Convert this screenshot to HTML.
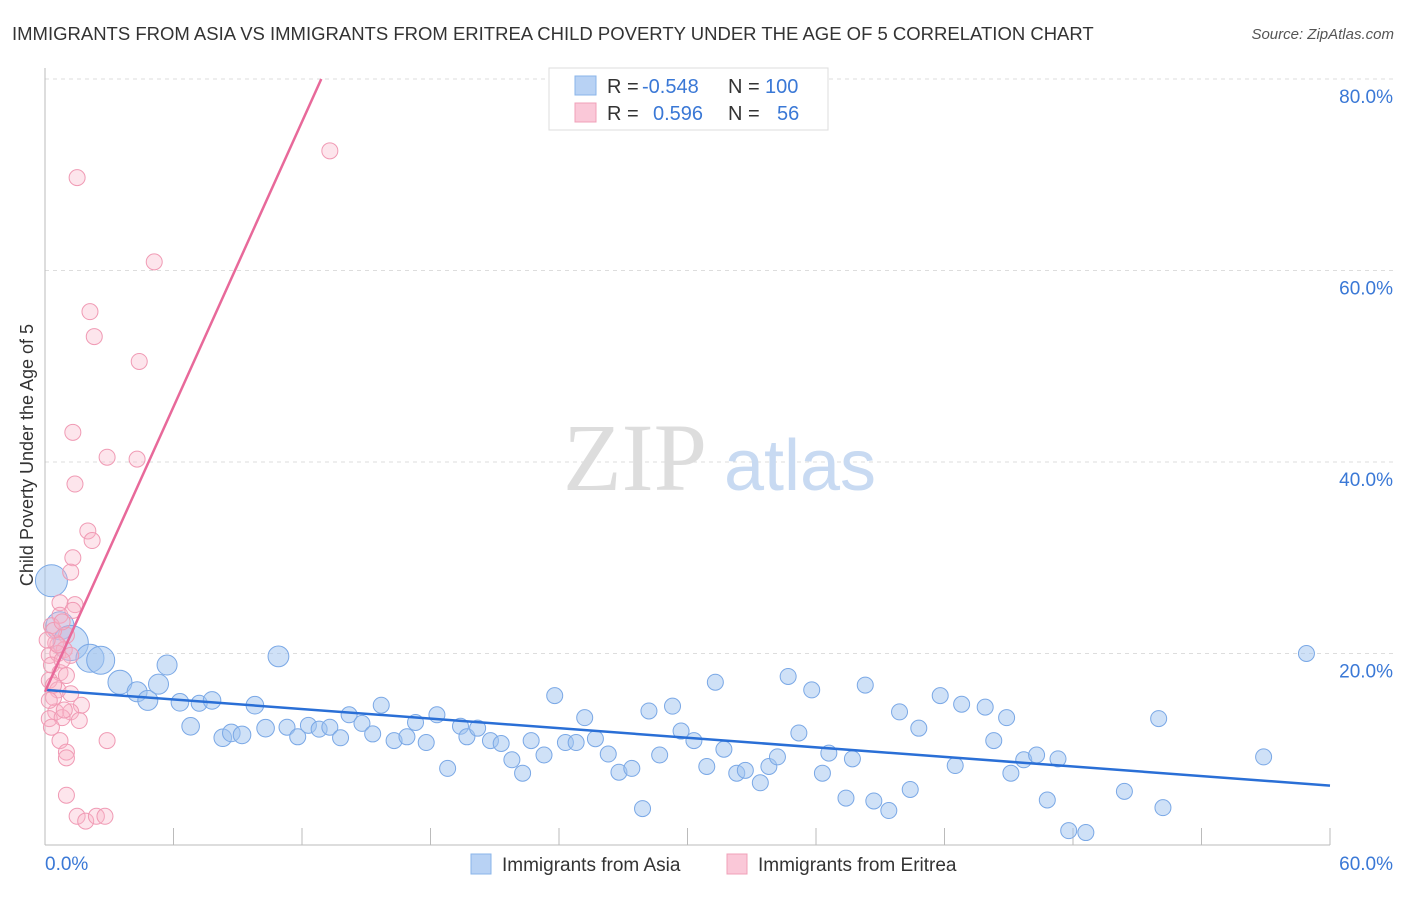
<!DOCTYPE html>
<html><head><meta charset="utf-8"><style>
body{margin:0;background:#fff;font-family:"Liberation Sans",sans-serif;}
svg text{font-family:"Liberation Sans",sans-serif;}
</style></head><body>
<svg id="chart" width="1406" height="892" viewBox="0 0 1406 892">
<text x="12" y="40" font-size="18.5" fill="#333">IMMIGRANTS FROM ASIA VS IMMIGRANTS FROM ERITREA CHILD POVERTY UNDER THE AGE OF 5 CORRELATION CHART</text>
<text x="1394" y="39" font-size="15" fill="#555" font-style="italic" text-anchor="end">Source: ZipAtlas.com</text>
<g id="grid"></g>
<g>
<text x="635" y="490" font-size="96" fill="#ddd" text-anchor="middle" style="font-family:'Liberation Serif',serif">ZIP</text>
<text x="800" y="490" font-size="72" fill="#c8daf2" text-anchor="middle">atlas</text>
</g>
<g id="axes"></g>
<g id="pts"></g>
<g id="lines"></g>
<text x="33" y="455" font-size="18" fill="#333" text-anchor="middle" transform="rotate(-90 33 455)">Child Poverty Under the Age of 5</text>
<g>
<rect x="549" y="68" width="279" height="62" fill="#fff" stroke="#ddd"/>
<rect x="575" y="76" width="21" height="19" fill="#b8d2f4" stroke="#8ab4ea"/>
<rect x="575" y="103" width="21" height="19" fill="#fac8d8" stroke="#f0a0b8"/>
<text x="607" y="93" font-size="20" fill="#333">R =</text><text x="642" y="93" font-size="20" fill="#3a78d6">-0.548</text>
<text x="728" y="93" font-size="20" fill="#333">N =</text><text x="765" y="93" font-size="20" fill="#3a78d6">100</text>
<text x="607" y="120" font-size="20" fill="#333">R =</text><text x="653" y="120" font-size="20" fill="#3a78d6">0.596</text>
<text x="728" y="120" font-size="20" fill="#333">N =</text><text x="777" y="120" font-size="20" fill="#3a78d6">56</text>
</g>
<g>
<rect x="471" y="854" width="20" height="20" fill="#b8d2f4" stroke="#8ab4ea"/>
<text x="502" y="871" font-size="19" fill="#333">Immigrants from Asia</text>
<rect x="727" y="854" width="20" height="20" fill="#fac8d8" stroke="#f0a0b8"/>
<text x="758" y="871" font-size="19" fill="#333">Immigrants from Eritrea</text>
</g>
</svg>
<script>
const blueX=[0.3,0.7,1.2,2.1,2.6,3.5,4.3,4.8,5.3,5.7,6.3,6.8,7.2,7.8,8.3,8.7,9.2,9.8,10.3,10.9,11.3,11.8,12.3,12.8,13.3,13.8,14.2,14.8,15.3,15.7,16.3,16.9,17.3,17.8,18.3,18.8,19.4,19.7,20.2,20.8,21.3,21.8,22.3,22.7,23.3,23.8,24.3,24.8,25.2,25.7,26.3,26.8,27.4,27.9,28.2,28.7,29.3,29.7,30.3,30.9,31.3,31.7,32.3,32.7,33.4,33.8,34.2,34.7,35.2,35.8,36.3,36.6,37.4,37.7,38.3,38.7,39.4,39.9,40.4,40.8,41.8,42.5,42.8,43.9,44.3,44.9,45.1,45.7,46.3,46.8,47.3,47.8,48.6,50.4,52.0,52.2,56.9,58.9];
const blueY=[27.6,22.9,21.1,19.5,19.3,17.0,16.0,15.1,16.8,18.8,14.9,12.4,14.8,15.1,11.2,11.7,11.5,14.6,12.2,19.7,12.3,11.3,12.5,12.1,12.3,11.2,13.6,12.7,11.6,14.6,10.9,11.3,12.8,10.7,13.6,8.0,12.4,11.3,12.2,10.9,10.6,8.9,7.5,10.9,9.4,15.6,10.7,10.7,13.3,11.1,9.5,7.6,8.0,3.8,14.0,9.4,14.5,11.9,10.9,8.2,17.0,10.0,7.5,7.8,6.5,8.2,9.2,17.6,11.7,16.2,7.5,9.6,4.9,9.0,16.7,4.6,3.6,13.9,5.8,12.2,15.6,8.3,14.7,14.4,10.9,13.3,7.5,8.9,9.4,4.7,9.0,1.5,1.3,5.6,13.2,3.9,9.2,20.0];
const blueW=[2,1.75,2.2,1.75,1.75,1.5,1.25,1.25,1.25,1.25,1.1,1.1,1,1.1,1.1,1.1,1.1,1.1,1.1,1.3];
const pinkX=[1.5,13.3,5.1,2.1,2.3,4.4,1.3,2.9,4.3,1.4,2.0,2.2,1.3,1.2,0.7,1.4,0.7,0.3,1.0,0.5,0.9,0.2,0.6,1.2,0.3,0.7,1.0,0.2,0.6,1.2,0.4,1.7,0.5,1.2,0.2,0.8,0.3,0.7,1.0,1.0,2.9,1.0,1.5,1.9,2.4,2.8,0.4,0.6,0.8,0.1,1.3,1.6,0.2,0.4,0.8,0.9];
const pinkY=[69.7,72.5,60.9,55.7,53.1,50.5,43.1,40.5,40.3,37.7,32.8,31.8,30.0,28.5,25.3,25.1,24.0,22.9,21.9,21.1,20.4,19.8,20.0,19.8,18.8,18.0,17.7,17.2,16.2,15.8,15.4,14.6,13.9,13.9,13.2,13.3,12.3,10.9,9.7,9.1,10.9,5.2,3.0,2.5,3.0,3.0,22.4,20.9,19.3,21.4,24.5,13.0,15.1,16.7,23.3,14.1];
const blueTrend=[16.2,6.2];
const pinkTrend=[16.0,80.0,12.9];
const yTicks=[20,40,60,80];
const xTickLabels=["0.0%","60.0%"];

const NS="http://www.w3.org/2000/svg";
const X0=45,X1=1330,Y0=845,YTOP=79;
const sx=v=>X0+(v/60)*(X1-X0);
const sy=v=>Y0-(v/80)*(Y0-YTOP);
function mk(tag,attrs,parent){const e=document.createElementNS(NS,tag);for(const k in attrs)e.setAttribute(k,attrs[k]);parent.appendChild(e);return e;}
const grid=document.getElementById('grid'),axes=document.getElementById('axes'),pts=document.getElementById('pts'),lines=document.getElementById('lines');
yTicks.forEach(t=>{
  const l=mk('line',{x1:X0,x2:1394,y1:sy(t),y2:sy(t),stroke:'#ddd','stroke-dasharray':'4,4'},grid);
  
  
  const tx=mk('text',{x:1393,y:sy(t)+24,'font-size':19,fill:'#3a78d6','text-anchor':'end'},axes);
  tx.textContent=t.toFixed(1)+'%';
  
  
});
const ax=mk('line',{x1:X0,x2:X1,y1:Y0,y2:Y0,stroke:'#bbb'},axes);


const ay=mk('line',{x1:X0,x2:X0,y1:68,y2:Y0,stroke:'#bbb'},axes);


for(let i=0;i<=10;i++){
  const tk=mk('line',{x1:sx(i*6),x2:sx(i*6),y1:828,y2:Y0,stroke:'#bbb'},axes);
  
  
}
const xl0=mk('text',{x:45,y:870,'font-size':19,fill:'#3a78d6'},axes);xl0.textContent=xTickLabels[0];


const xl1=mk('text',{x:1393,y:870,'font-size':19,fill:'#3a78d6','text-anchor':'end'},axes);xl1.textContent=xTickLabels[1];


blueX.forEach((v,i)=>{
  const r=8*(blueW[i]||1);
  const c=mk('circle',{cx:sx(v),cy:sy(blueY[i]),r:r,fill:'rgba(160,196,240,0.5)',stroke:'#7aa8e6','stroke-width':1},pts);
  
  
});
pinkX.forEach((v,i)=>{
  const c=mk('circle',{cx:sx(v),cy:sy(pinkY[i]),r:8,fill:'rgba(248,180,200,0.35)',stroke:'#f09ab4','stroke-width':1},pts);
  
  
});
const bl=mk('line',{x1:sx(0),y1:sy(blueTrend[0]),x2:sx(60),y2:sy(blueTrend[1]),stroke:'#2a6fd6','stroke-width':2.5},lines);


const pl=mk('line',{x1:sx(0),y1:sy(pinkTrend[0]),x2:sx(pinkTrend[2]),y2:sy(pinkTrend[1]),stroke:'#e8699a','stroke-width':2.5},lines);


</script>
</body></html>
